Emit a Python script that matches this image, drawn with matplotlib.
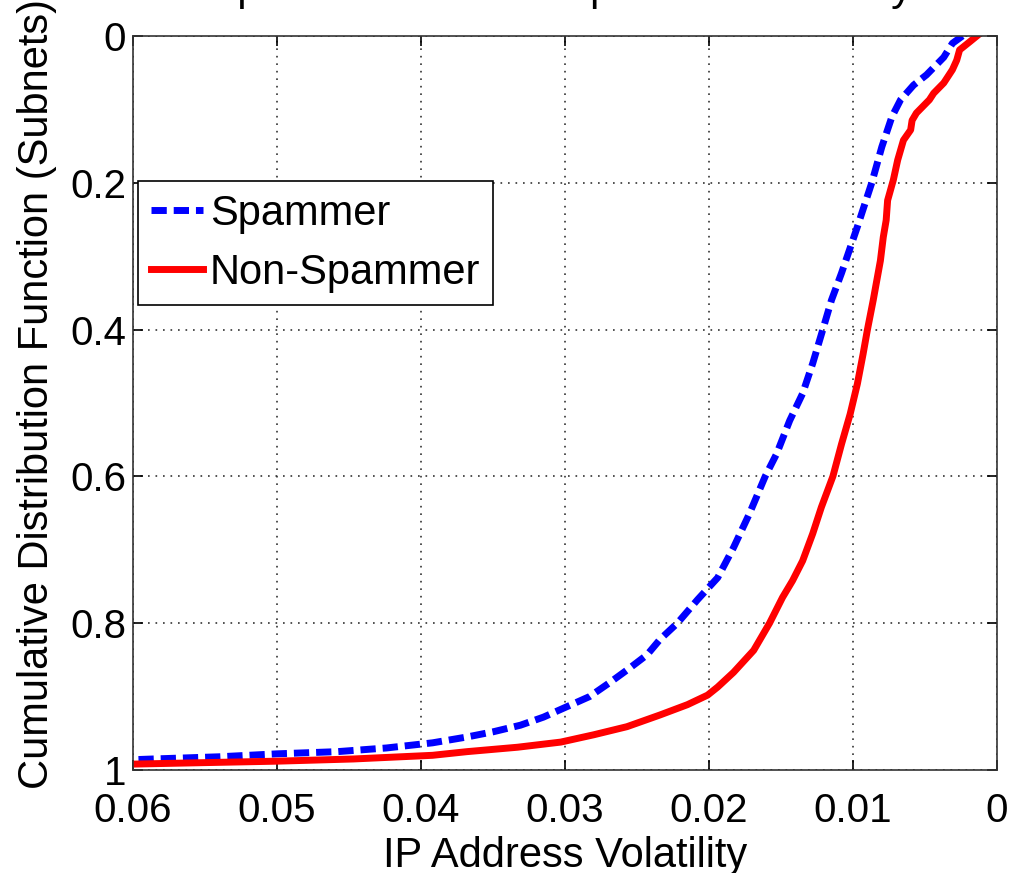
import numpy as np
import matplotlib.pyplot as plt

# CDF of IP address volatility per subnet
spam_vol = [0.0024, 0.0031, 0.0037, 0.0049, 0.0058, 0.0067, 0.0073, 0.0080, 0.0087, 0.0097,
            0.0108, 0.0115, 0.0121, 0.0128, 0.0135, 0.0144, 0.0153, 0.0161, 0.0172, 0.0183,
            0.0194, 0.0208, 0.0222, 0.0234, 0.0243, 0.0255, 0.0269, 0.0283, 0.0299, 0.0315,
            0.0331, 0.0350, 0.0368, 0.0392, 0.0424, 0.0458, 0.0500, 0.0540, 0.0586, 0.0600]
spam_cdf = [0.0, 0.01, 0.029, 0.053, 0.067, 0.087, 0.11, 0.151, 0.2, 0.26,
            0.323, 0.36, 0.4, 0.446, 0.487, 0.524, 0.569, 0.6, 0.651, 0.697,
            0.738, 0.768, 0.8, 0.822, 0.843, 0.861, 0.881, 0.9, 0.914, 0.928,
            0.939, 0.948, 0.955, 0.963, 0.970, 0.975, 0.978, 0.982, 0.985, 0.986]

nonspam_vol = [0.0014, 0.0019, 0.0026, 0.0028, 0.0031, 0.0037, 0.0044, 0.0047, 0.0056, 0.0059,
               0.0060, 0.0065, 0.0069, 0.0072, 0.0076, 0.0077, 0.0079, 0.0081, 0.0086, 0.0090,
               0.0093, 0.0097, 0.0102, 0.0108, 0.0114, 0.0122, 0.0128, 0.0135, 0.0142, 0.0149,
               0.0158, 0.0169, 0.0183, 0.0194, 0.0201, 0.0215, 0.0234, 0.0257, 0.0280, 0.0303,
               0.0333, 0.0368, 0.0392, 0.0447, 0.0500, 0.0551, 0.0600]
nonspam_cdf = [0.0, 0.008, 0.019, 0.033, 0.046, 0.064, 0.078, 0.087, 0.105, 0.115,
               0.128, 0.142, 0.169, 0.196, 0.224, 0.251, 0.274, 0.306, 0.36, 0.4,
               0.433, 0.474, 0.515, 0.556, 0.6, 0.642, 0.678, 0.715, 0.742, 0.765,
               0.8, 0.837, 0.867, 0.887, 0.898, 0.911, 0.925, 0.941, 0.952, 0.962,
               0.969, 0.975, 0.980, 0.985, 0.988, 0.990, 0.992]

xticks = [0.06, 0.05, 0.04, 0.03, 0.02, 0.01, 0]
xticklabels = ["0.06", "0.05", "0.04", "0.03", "0.02", "0.01", "0"]
yticks = [0, 0.2, 0.4, 0.6, 0.8, 1]
yticklabels = ["0", "0.2", "0.4", "0.6", "0.8", "1"]

plt.rcParams['font.family'] = ['Liberation Sans', 'DejaVu Sans']

fig = plt.figure(figsize=(10.11, 8.73), dpi=100)
ax = fig.add_axes([0.1316, 0.118, 0.8546, 0.8408])

ax.plot(spam_vol, spam_cdf, color='blue', lw=5, dashes=(2.2, 1.0), label='Spammer')
ax.plot(nonspam_vol, nonspam_cdf, color='red', lw=5, label='Non-Spammer')

ax.set_xlim(0.06, 0)
ax.set_ylim(1, 0)
ax.set_xticks(xticks)
ax.set_xticklabels(xticklabels)
ax.set_yticks(yticks)
ax.set_yticklabels(yticklabels)
ax.tick_params(direction='in', length=7, width=1.2, top=True, right=True, labelsize=29)
ax.tick_params(axis='x', pad=16)
ax.tick_params(axis='y', pad=5)
ax.grid(True, color='#333333', linestyle=(0, (1, 3.5)), linewidth=1.2)
for s in ax.spines.values():
    s.set_linewidth(1.2)
    s.set_color('#333333')

ax.set_xlabel('IP Address Volatility', fontsize=30, labelpad=4)
ax.set_ylabel('Cumulative Distribution Function (Subnets)', fontsize=30)
ax.yaxis.set_label_coords(-0.088, 0.512)

leg = ax.legend(loc='upper left', bbox_to_anchor=(0.006, 0.802), fontsize=30,
                handlelength=1.25, handletextpad=0.17, labelspacing=0.45,
                borderaxespad=0, borderpad=0.3, fancybox=False, framealpha=1)
leg.get_frame().set_edgecolor('black')
leg.get_frame().set_linewidth(1.2)

# title sits above the canvas, only its descenders show
fig.text(209 / 1011, 1.0, 'Spammer vs. Non-Spammer Volatility', fontsize=30.5,
         ha='left', va='baseline')

fig.savefig('out.png', dpi=100)
